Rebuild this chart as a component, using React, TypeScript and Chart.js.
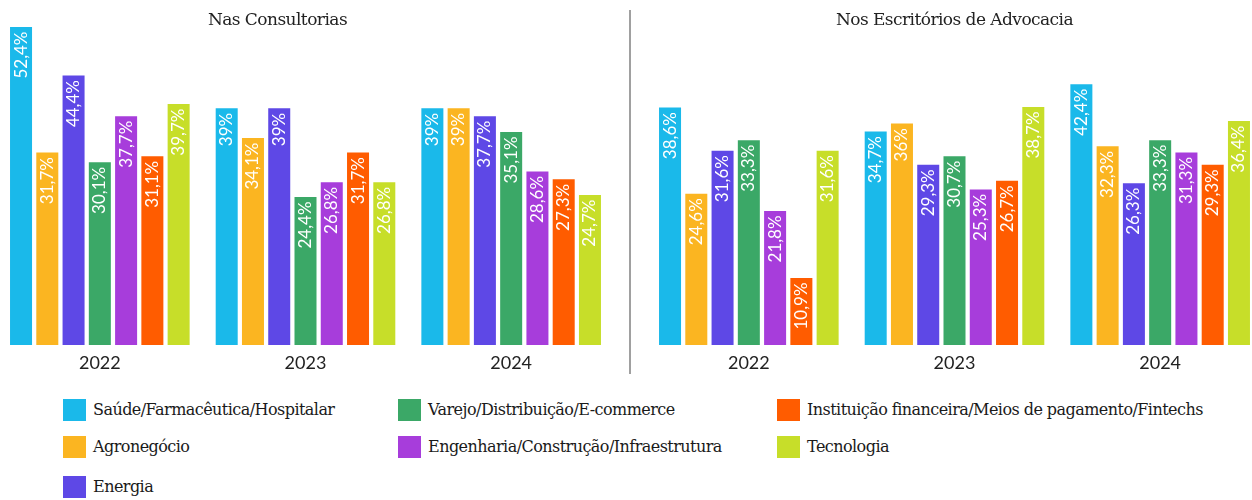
import React, { useEffect, useRef } from "react";
import { Chart, registerables } from "chart.js";

Chart.register(...registerables);

// ---- data ----
const years = ["2022", "2023", "2024"];

const seriesNames = [
  "Saúde/Farmacêutica/Hospitalar",
  "Agronegócio",
  "Energia",
  "Varejo/Distribuição/E-commerce",
  "Engenharia/Construção/Infraestrutura",
  "Instituição financeira/Meios de pagamento/Fintechs",
  "Tecnologia",
];

const seriesColors = [
  "#1ab9ea",
  "#fbb521",
  "#5e48e6",
  "#3ba867",
  "#a73ddb",
  "#ff5c00",
  "#c7de29",
];

// Nas Consultorias
const consSaude = [52.4, 39, 39];
const consAgro = [31.7, 34.1, 39];
const consEnergia = [44.4, 39, 37.7];
const consVarejo = [30.1, 24.4, 35.1];
const consEngenharia = [37.7, 26.8, 28.6];
const consFinanceira = [31.1, 31.7, 27.3];
const consTecnologia = [39.7, 26.8, 24.7];

// Nos Escritórios de Advocacia
const advSaude = [38.6, 34.7, 42.4];
const advAgro = [24.6, 36, 32.3];
const advEnergia = [31.6, 29.3, 26.3];
const advVarejo = [33.3, 30.7, 33.3];
const advEngenharia = [21.8, 25.3, 31.3];
const advFinanceira = [10.9, 26.7, 29.3];
const advTecnologia = [31.6, 38.7, 36.4];

const consSeries = [consSaude, consAgro, consEnergia, consVarejo, consEngenharia, consFinanceira, consTecnologia];
const advSeries = [advSaude, advAgro, advEnergia, advVarejo, advEngenharia, advFinanceira, advTecnologia];

const titleCons = "Nas Consultorias";
const titleAdv = "Nos Escritórios de Advocacia";

const fmt = (v: number) => String(v).replace(".", ",") + "%";

const barLabelPlugin = {
  id: "barLabels",
  afterDatasetsDraw(chart: any) {
    const ctx = chart.ctx as CanvasRenderingContext2D;
    ctx.save();
    ctx.font = "17px Lato";
    ctx.fillStyle = "#ffffff";
    ctx.textAlign = "right";
    ctx.textBaseline = "middle";
    chart.data.datasets.forEach((ds: any, i: number) => {
      const meta = chart.getDatasetMeta(i);
      meta.data.forEach((bar: any, j: number) => {
        const v = ds.data[j];
        ctx.save();
        ctx.translate(bar.x, bar.y + 4.5);
        ctx.rotate(-Math.PI / 2);
        ctx.fillText(fmt(v), 0, 0);
        ctx.restore();
      });
    });
    ctx.restore();
  },
};

function BarPanel({ series, max, left }: { series: number[][]; max: number; left: number }) {
  const ref = useRef<HTMLCanvasElement | null>(null);
  useEffect(() => {
    if (!ref.current) return;
    const chart = new Chart(ref.current, {
      type: "bar",
      data: {
        labels: years,
        datasets: series.map((d, i) => ({
          label: seriesNames[i],
          data: d,
          backgroundColor: seriesColors[i],
          borderWidth: 0,
          categoryPercentage: 0.894,
          barPercentage: 0.838,
        })),
      },
      options: {
        animation: false,
        responsive: false,
        maintainAspectRatio: false,
        devicePixelRatio: 1,
        layout: { padding: { left: 0, right: 0, top: 0, bottom: 6.4 } },
        plugins: {
          legend: { display: false },
          tooltip: { enabled: false },
          title: { display: false },
        },
        scales: {
          x: {
            grid: { display: false, drawTicks: false },
            border: { display: false },
            ticks: {
              color: "#222222",
              font: { family: "Lato", size: 18 },
              padding: 7,
            },
          },
          y: {
            display: false,
            min: 0,
            max: max,
          },
        },
      },
      plugins: [barLabelPlugin],
    });
    return () => chart.destroy();
  }, []);
  return (
    <canvas
      ref={ref}
      width={617}
      height={360}
      style={{ position: "absolute", left, top: 27, width: 617, height: 360 }}
    />
  );
}

const legendCols = [
  { x: 63, items: [0, 1, 2] },
  { x: 398, items: [3, 4] },
  { x: 777, items: [5, 6] },
];
const legendRowTops = [399, 436, 476];

export default function App() {
  const serif = "'DejaVu Serif', serif";
  return (
    <div
      style={{
        position: "absolute",
        left: 0,
        top: 0,
        width: 1252,
        height: 500,
        overflow: "hidden",
        background: "#ffffff",
      }}
    >
      <BarPanel series={consSeries} max={52.4} left={-3} />
      <BarPanel series={advSeries} max={51.7} left={646} />

      <div
        style={{
          position: "absolute",
          left: 277.5 - 150,
          width: 300,
          top: 9,
          lineHeight: "20px",
          textAlign: "center",
          fontFamily: serif,
          fontSize: 17,
          letterSpacing: -0.55,
          color: "#222",
          whiteSpace: "nowrap",
        }}
      >
        {titleCons}
      </div>
      <div
        style={{
          position: "absolute",
          left: 954.5 - 200,
          width: 400,
          top: 9,
          lineHeight: "20px",
          textAlign: "center",
          fontFamily: serif,
          fontSize: 17,
          letterSpacing: -0.55,
          color: "#222",
          whiteSpace: "nowrap",
        }}
      >
        {titleAdv}
      </div>

      <div
        style={{
          position: "absolute",
          left: 629,
          top: 10,
          width: 2,
          height: 364,
          background: "#a0a0a0",
        }}
      />

      {legendCols.map((col) =>
        col.items.map((idx, r) => (
          <div
            key={idx}
            style={{
              position: "absolute",
              left: col.x,
              top: legendRowTops[r],
              height: 22,
              display: "flex",
              alignItems: "center",
              whiteSpace: "nowrap",
            }}
          >
            <div style={{ width: 23, height: 22, background: seriesColors[idx], flex: "none" }} />
            <div
              style={{
                marginLeft: 7,
                fontFamily: serif,
                fontSize: 16,
                letterSpacing: -0.55,
                lineHeight: "22px",
                color: "#1a1a1a",
              }}
            >
              {seriesNames[idx]}
            </div>
          </div>
        ))
      )}
    </div>
  );
}
